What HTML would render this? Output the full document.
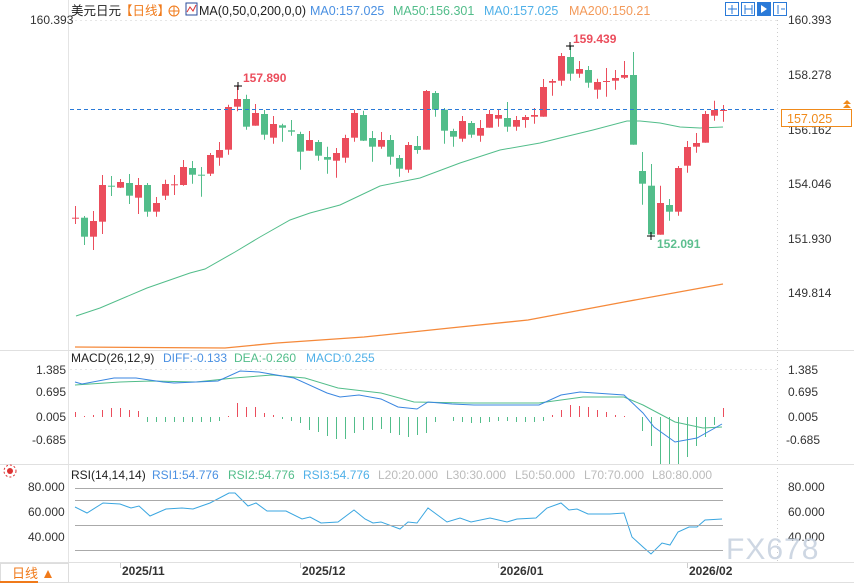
<!DOCTYPE html>
<html><head><meta charset="utf-8"><style>
html,body{margin:0;padding:0;background:#fff;}
svg{display:block;font-family:"Liberation Sans","Noto Sans CJK SC",sans-serif;}
</style></head><body>
<svg id="s" width="854" height="583" viewBox="0 0 854 583" xmlns="http://www.w3.org/2000/svg">
<rect width="854" height="583" fill="#fff"/>
<!-- frame lines -->
<line x1="68.5" y1="0" x2="68.5" y2="563" stroke="#e4e4e4"/>
<line x1="777.5" y1="20" x2="777.5" y2="563" stroke="#ccc" stroke-dasharray="1,3"/>
<line x1="0" y1="350.5" x2="854" y2="350.5" stroke="#e0e0e0"/>
<line x1="0" y1="464.5" x2="854" y2="464.5" stroke="#e0e0e0"/>
<line x1="0" y1="562.5" x2="854" y2="562.5" stroke="#e0e0e0"/>
<line x1="0" y1="582.5" x2="854" y2="582.5" stroke="#e0e0e0"/>
<line x1="70" y1="20.5" x2="777" y2="20.5" stroke="#e6e6e6" stroke-dasharray="2,3"/>
<line x1="70" y1="369.5" x2="777" y2="369.5" stroke="#e6e6e6" stroke-dasharray="2,3"/>
<g id="g"></g>
<!-- header -->
<text x="71" y="15" font-size="12.5" fill="#222">美元日元</text>
<text x="120" y="15" font-size="12.5" fill="#f07a1a">【日线】</text>
<circle cx="174" cy="11" r="5" fill="none" stroke="#f07a1a"/><line x1="169" y1="11" x2="179" y2="11" stroke="#f07a1a"/><line x1="174" y1="6" x2="174" y2="16" stroke="#f07a1a"/>
<rect x="186" y="3" width="11" height="12" fill="#fff" stroke="#2a4a9a"/><polyline points="187,12 190,7 193,11 196,5" fill="none" stroke="#d33"/>
<text x="199" y="15" font-size="12.5" fill="#222">MA(0,50,0,200,0,0)</text>
<text x="310" y="15" font-size="12.5" fill="#4a90e2">MA0:157.025</text>
<text x="393" y="15" font-size="12.5" fill="#52bd8a">MA50:156.301</text>
<text x="484" y="15" font-size="12.5" fill="#4fb0e8">MA0:157.025</text>
<text x="569" y="15" font-size="12.5" fill="#f39a5a">MA200:150.21</text>
<g fill="#fff" stroke="#2a7ad8"><rect x="725.5" y="2.5" width="13" height="13"/><rect x="741.5" y="2.5" width="13" height="13"/><rect x="757.5" y="2.5" width="13" height="13" fill="#2a7ad8"/><rect x="773.5" y="2.5" width="13" height="13"/></g>
<g stroke="#2a7ad8" fill="none"><path d="M732 5v9M728 9h9M745 5v9M752 5v9M745 9h7M778 5v9M781 9h4"/></g><path d="M761 5l6 4-6 4z" fill="#fff"/>
<!-- axis labels main -->
<g font-size="12" fill="#333">
<text x="30" y="24">160.393</text>
<text x="788" y="24">160.393</text><text x="788" y="79">158.278</text><text x="788" y="134">156.162</text><text x="788" y="188">154.046</text><text x="788" y="243">151.930</text><text x="788" y="297">149.814</text>
</g>
<line x1="70" y1="109.5" x2="777" y2="109.5" stroke="#2a7ad8" stroke-dasharray="4,3"/>
<rect x="781.5" y="109.5" width="70" height="17" fill="#fff" stroke="#f08a1a"/>
<text x="787" y="123" font-size="12.5" fill="#f08a1a">157.025</text>
<path d="M843 104l4-4 4 4zM843 108l4-4 4 4z" fill="#f08a1a"/>
<text x="243" y="82" font-size="12" font-weight="bold" fill="#eb4d5c">157.890</text>
<text x="573" y="43" font-size="12" font-weight="bold" fill="#eb4d5c">159.439</text>
<text x="657" y="248" font-size="12" font-weight="bold" fill="#5dbf8f">152.091</text>
<path d="M234 86h8M238 82v8M566 46h8M570 42v8M647 236h8M651 232v8" stroke="#000"/>
<!-- MACD -->
<text x="71" y="362" font-size="12" fill="#222">MACD(26,12,9)</text>
<text x="163" y="362" font-size="12" fill="#4a90e2">DIFF:-0.133</text>
<text x="234" y="362" font-size="12" fill="#52bd8a">DEA:-0.260</text>
<text x="306" y="362" font-size="12" fill="#4fb0e8">MACD:0.255</text>
<g font-size="12" fill="#333">
<text x="36" y="374">1.385</text><text x="36" y="396">0.695</text><text x="36" y="421">0.005</text><text x="32" y="444">-0.685</text>
<text x="788" y="374">1.385</text><text x="788" y="396">0.695</text><text x="788" y="421">0.005</text><text x="786" y="444">-0.685</text>
</g>
<!-- RSI -->
<circle cx="10" cy="471" r="3" fill="#d33"/><circle cx="10" cy="471" r="6" fill="none" stroke="#d33" stroke-dasharray="2,2"/>
<g font-size="12">
<text x="71" y="479" fill="#222">RSI(14,14,14)</text>
<text x="152" y="479" fill="#4a90e2">RSI1:54.776</text>
<text x="228" y="479" fill="#52bd8a">RSI2:54.776</text>
<text x="303" y="479" fill="#4fb0e8">RSI3:54.776</text>
<text x="378" y="479" fill="#bbb">L20:20.000</text>
<text x="446" y="479" fill="#bbb">L30:30.000</text>
<text x="515" y="479" fill="#bbb">L50:50.000</text>
<text x="584" y="479" fill="#bbb">L70:70.000</text>
<text x="652" y="479" fill="#bbb">L80:80.000</text>
</g>
<g font-size="12" fill="#333">
<text x="28" y="491">80.000</text><text x="28" y="516">60.000</text><text x="28" y="541">40.000</text>
<text x="788" y="491">80.000</text><text x="788" y="516">60.000</text><text x="788" y="541">40.000</text>
</g>
<g stroke="#aaa"><line x1="75" y1="488.5" x2="723" y2="488.5"/><line x1="75" y1="500.5" x2="723" y2="500.5"/><line x1="75" y1="525.5" x2="723" y2="525.5"/><line x1="75" y1="550.5" x2="723" y2="550.5"/></g>
<text x="726" y="559" font-size="30" fill="#c9d3e0" letter-spacing="1" opacity="0.9">FX678</text>
<!-- dates -->
<g font-size="12" font-weight="bold" fill="#333">
<text x="122" y="575">2025/11</text><text x="302" y="575">2025/12</text><text x="500" y="575">2026/01</text><text x="689" y="575">2026/02</text>
</g>
<g stroke="#ccc"><line x1="120.5" y1="563" x2="120.5" y2="568"/><line x1="300.5" y1="563" x2="300.5" y2="568"/><line x1="498.5" y1="563" x2="498.5" y2="568"/><line x1="687.5" y1="563" x2="687.5" y2="568"/></g>
<rect x="0.5" y="563.5" width="68" height="19" fill="#fff" stroke="#ddd"/>
<text x="12" y="578" font-size="13" fill="#f07a1a">日线</text><path d="M44 578l4-8 4 8z" fill="#f07a1a"/>
<line x1="0" y1="582" x2="38" y2="582" stroke="#f07a1a" stroke-width="2"/>
</svg>
<script>
var g=document.getElementById('g'),NS='http://www.w3.org/2000/svg',R='#eb4d5c',G='#52bd8a';
function el(t,a){var e=document.createElementNS(NS,t);for(var k in a)e.setAttribute(k,a[k]);g.appendChild(e);return e;}
var C=[[217.7,217.7,206,224,R],[217.7,236.7,216,245,G],[221,236.7,211,250,R],[185,221.7,175,234,R],[185.7,185.7,176,196,G],[182,187.7,179,188,R],[183,195.7,174,204,G],[185,197.7,178,214,R],[185,211.7,183,216.7,G],[203,211.7,197,216.7,R],[184,195.7,179.7,200,R],[184.3,184.3,175,195,R],[167,185,160,185.7,R],[168,174.7,161,183.7,G],[174.7,174.7,167,196.7,G],[155,173.7,153,176,R],[150,157.7,142,165.7,R],[107,149.7,104.7,154.7,R],[99,106.7,85.7,111.3,R],[99,126.7,94.7,129.7,G],[113,125.7,104,125.7,R],[114,134.7,110,139.7,G],[124,137.7,116,143.7,R],[125.3,127.7,123.7,141.7,G],[130.3,131.7,120,135.7,G],[134,151.7,131.7,169.7,G],[140,150.7,131,150.7,R],[142,155.7,140,160.7,G],[157,159.7,146.7,173.7,G],[153,160.7,148,177.7,R],[138,157.7,134.7,162.7,R],[113,137.7,109.7,141.7,R],[115,140.7,110.7,141,G],[138,146.7,131,161.7,G],[140,146.7,132,148.7,R],[140,156.7,135,164.7,G],[158,168.7,155,176.7,G],[145,169.7,142,172.7,R],[146,150,136,153.7,G],[91,149.7,90,149.7,R],[93,109.7,91,116.7,G],[109.7,130.7,108,143.7,G],[131,136.7,128.7,146.7,G],[121,138.7,116,141.7,R],[123,134.7,121,137.7,G],[128,135.7,120,141.7,R],[114,127.7,110,127.7,R],[115,118.7,110,126.7,R],[118,126.7,102,131.7,G],[120,126.7,116,130.7,R],[117,120,115,127.7,R],[115,116.7,108,123.7,R],[87,116.7,79,116.7,R],[81,82.7,79,95.7,R],[56,80.7,53,85.7,R],[57,73.7,46,80.7,G],[69,73.7,61,77.7,R],[70,82.7,66,87.7,G],[82,89.7,78.7,98.7,R],[81,81,68,96.7,R],[78,80.7,70,89.7,R],[75,77.7,61,79,R],[75,144.7,52,144.7,G],[171,183.7,152,204.7,G],[185.7,234.3,164,234.3,G],[203,234.7,185.7,234.7,R],[205,211.7,199,220.7,G],[168,211.7,166,215.7,R],[147,165.7,141,172.7,R],[143,146.7,133,152.7,R],[114,142.7,111,142.7,R],[110,115.7,100.7,120.7,R],[110,110,105,121.7,R]];
function poly(p,c,w){el('polyline',{points:p.map(function(a){return a.join(',')}).join(' '),fill:'none',stroke:c,'stroke-width':w||1});}
poly([[76,316],[100,308],[147,288],[190,273],[205,269],[235,252],[260,237],[290,220],[310,213],[340,205],[380,186],[420,178],[460,163],[500,150],[540,143],[560,138],[593,130],[627,121],[640,121],[660,123],[680,127],[700,128],[723,127]],'#52bd8a');
poly([[75,347],[225,348],[277,343],[364,337],[450,328],[528,320],[624,302],[723,284]],'#f5893a',1.3);
C.forEach(function(c,i){var x=75+9*i;el('line',{x1:x+.5,y1:c[2],x2:x+.5,y2:c[3],stroke:c[4]});var h=Math.max(1,c[1]-c[0]);el('rect',{x:x-3,y:c[0],width:7,height:h,fill:c[4]});});
var H=[412,416,415,410,408,408,410,411,422,422,422,422,422,422,422,422,421,416,403,407,407,413,415,419,421,423,430,432,436,439,439,433,430,430,429,433,435,437,435,433,422,417,421,422,423,423,422,421,421,422,422,422,421,415,410,405,406,407,410,412,415,416,417,431,446,464,464,464,457,446,437,425,408];
H.forEach(function(y,i){var x=75+9*i+.5,z=417;el('line',{x1:x,y1:Math.min(y,z),x2:x,y2:Math.max(y,z),stroke:y<z?R:G});});
poly([[75,385],[120,382],[152,381],[196,382],[234,378],[272,375],[305,378],[338,388],[381,393],[414,402],[468,403],[539,403],[583,397],[624,397],[643,405],[675,422],[703,428],[722,427]],'#52bd8a');
poly([[75,382],[82,384],[114,378],[136,378],[163,382],[174,383],[218,381],[240,371],[259,372],[294,378],[327,393],[340,397],[359,395],[381,399],[398,407],[417,409],[428,402],[452,404],[474,405],[539,405],[561,395],[580,392],[624,395],[643,413],[654,427],[675,442],[697,438],[722,424]],'#3a86e0');
poly([[75,507],[87,513],[103,503],[120,504],[131,508],[139,506],[150,516],[166,509],[182,508],[193,509],[210,503],[229,493],[235,493],[248,506],[256,503],[267,511],[286,511],[302,519],[310,517],[321,523],[338,522],[354,510],[365,519],[373,523],[381,522],[400,529],[408,522],[417,523],[428,508],[447,522],[460,518],[471,522],[490,518],[507,522],[517,519],[536,518],[547,508],[561,503],[569,510],[577,509],[588,514],[610,514],[624,513],[632,537],[643,547],[651,554],[662,543],[670,545],[678,532],[689,527],[697,527],[705,520],[722,519]],'#3aa6e0');
</script>
</body></html>
